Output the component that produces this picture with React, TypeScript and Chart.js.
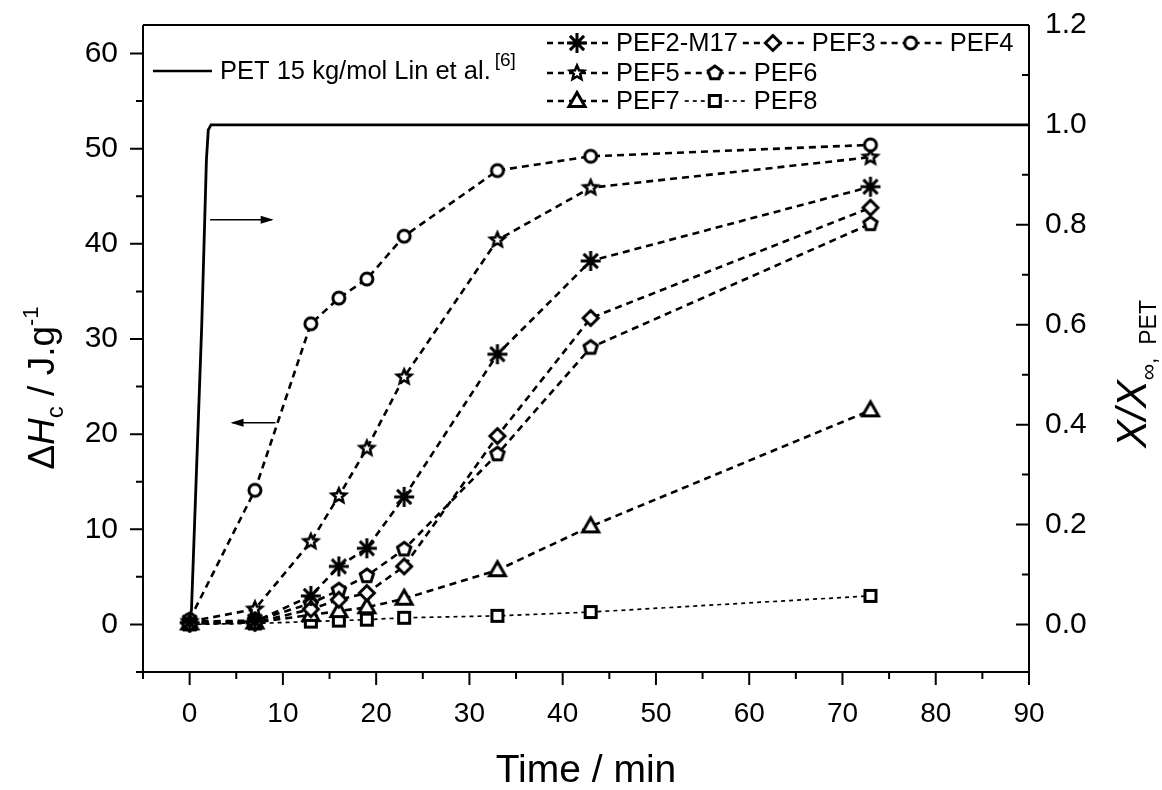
import React, { useEffect, useRef } from "react";
import { Chart, registerables } from "chart.js";

Chart.register(...registerables);

// ---------- data ----------
const times = [0, 7, 13, 16, 19, 23, 33, 43, 73];
const pef2m17 = [0.2, 0.3, 3.0, 6.1, 8.0, 13.4, 28.4, 38.2, 46.0];
const pef3 = [0.1, 0.2, 1.6, 2.6, 3.3, 6.1, 19.8, 32.2, 43.8];
const pef4 = [0.5, 14.1, 31.6, 34.3, 36.3, 40.8, 47.7, 49.2, 50.4];
const pef5 = [0.3, 1.6, 8.7, 13.5, 18.5, 26.0, 40.4, 45.9, 49.1];
const pef6 = [0.3, 0.4, 2.2, 3.6, 5.1, 7.9, 17.9, 29.1, 42.1];
const pef7 = [0.1, 0.2, 1.0, 1.4, 1.8, 2.7, 5.7, 10.3, 22.5];
const pef8 = [0.0, 0.1, 0.3, 0.4, 0.5, 0.7, 0.9, 1.3, 3.0];

const petTimes = [0, 0.2, 0.7, 1.3, 1.8, 2.0, 2.3, 90];
const petFraction = [0, 0.03, 0.29, 0.6, 0.93, 0.99, 1.0, 1.0];

const xTicks = [0, 10, 20, 30, 40, 50, 60, 70, 80, 90];
const xMinor = [5, 15, 25, 35, 45, 55, 65, 75, 85];
const yTicks = [0, 10, 20, 30, 40, 50, 60];
const yMinor = [5, 15, 25, 35, 45, 55];
const y2Ticks = [0, 0.2, 0.4, 0.6, 0.8, 1.0, 1.2];
const y2Minor = [0.1, 0.3, 0.5, 0.7, 0.9, 1.1];

const seriesNames = ["PEF2-M17", "PEF3", "PEF4", "PEF5", "PEF6", "PEF7", "PEF8"];
const seriesValues = [pef2m17, pef3, pef4, pef5, pef6, pef7, pef8];
const seriesMarkers = ["asterisk", "diamond", "circle", "star5", "pentagon", "triangle", "square"];
const petLabel = "PET 15 kg/mol Lin et al.";

const FONT = "'Liberation Sans', Arial, sans-serif";

function makeMarker(kind: string): HTMLCanvasElement {
  const size = 26;
  const c = document.createElement("canvas");
  c.width = size;
  c.height = size;
  const g = c.getContext("2d")!;
  const cx = size / 2;
  const cy = size / 2;
  g.strokeStyle = "#000";
  g.fillStyle = "#fff";
  g.lineWidth = 3;
  g.lineJoin = "miter";
  g.beginPath();
  if (kind === "asterisk") {
    g.lineWidth = 3;
    const r = 10;
    for (let i = 0; i < 4; i++) {
      const a = (i * Math.PI) / 4;
      g.moveTo(cx - r * Math.cos(a), cy - r * Math.sin(a));
      g.lineTo(cx + r * Math.cos(a), cy + r * Math.sin(a));
    }
    g.stroke();
    return c;
  }
  if (kind === "diamond") {
    const r = 7.5;
    g.moveTo(cx, cy - r);
    g.lineTo(cx + r, cy);
    g.lineTo(cx, cy + r);
    g.lineTo(cx - r, cy);
    g.closePath();
  } else if (kind === "circle") {
    g.arc(cx, cy, 6, 0, Math.PI * 2);
  } else if (kind === "star5") {
    g.lineWidth = 2.6;
    const ro = 7.5, ri = 3.4;
    for (let i = 0; i < 10; i++) {
      const r = i % 2 === 0 ? ro : ri;
      const a = -Math.PI / 2 + (i * Math.PI) / 5;
      const px = cx + r * Math.cos(a);
      const py = cy + r * Math.sin(a);
      if (i === 0) g.moveTo(px, py);
      else g.lineTo(px, py);
    }
    g.closePath();
  } else if (kind === "pentagon") {
    const r = 7;
    for (let i = 0; i < 5; i++) {
      const a = -Math.PI / 2 + (i * 2 * Math.PI) / 5;
      const px = cx + r * Math.cos(a);
      const py = cy + r * Math.sin(a);
      if (i === 0) g.moveTo(px, py);
      else g.lineTo(px, py);
    }
    g.closePath();
  } else if (kind === "triangle") {
    g.moveTo(cx, cy - 8.5);
    g.lineTo(cx + 8, cy + 5.5);
    g.lineTo(cx - 8, cy + 5.5);
    g.closePath();
  } else if (kind === "square") {
    g.rect(cx - 5.5, cy - 5.5, 11, 11);
  }
  g.fill();
  g.stroke();
  return c;
}

function drawRich(
  ctx: CanvasRenderingContext2D,
  parts: { t: string; size: number; italic?: boolean; dy?: number }[],
  cx: number,
  baseline: number
) {
  let total = 0;
  const widths: number[] = [];
  for (const p of parts) {
    ctx.font = `${p.italic ? "italic " : ""}${p.size}px ${FONT}`;
    const w = ctx.measureText(p.t).width;
    widths.push(w);
    total += w;
  }
  let x = cx - total / 2;
  ctx.textAlign = "left";
  ctx.textBaseline = "alphabetic";
  parts.forEach((p, i) => {
    ctx.font = `${p.italic ? "italic " : ""}${p.size}px ${FONT}`;
    ctx.fillText(p.t, x, baseline + (p.dy || 0));
    x += widths[i];
  });
}

const zeroPad = (s: any) => {
  s.paddingTop = 0;
  s.paddingBottom = 0;
  s.paddingLeft = 0;
  s.paddingRight = 0;
};

export default function App() {
  const ref = useRef<HTMLCanvasElement | null>(null);

  useEffect(() => {
    const canvas = ref.current;
    if (!canvas) return;
    const markers = seriesMarkers.map((m) => makeMarker(m));

    const datasets: any[] = seriesNames.map((name, i) => ({
      label: name,
      data: times.map((t, j) => ({ x: t, y: seriesValues[i][j] })),
      yAxisID: "y",
      borderColor: "#000",
      backgroundColor: "#fff",
      borderWidth: name === "PEF8" ? 1.7 : 2.6,
      borderDash: name === "PEF8" ? [4, 4] : [7, 5],
      pointStyle: markers[i],
      pointRadius: 7,
      tension: 0,
      fill: false,
    }));
    datasets.push({
      label: petLabel,
      data: petTimes.map((t, j) => ({ x: t, y: petFraction[j] })),
      yAxisID: "y2",
      borderColor: "#000",
      borderWidth: 2.8,
      pointRadius: 0,
      tension: 0,
      fill: false,
    });

    const framePlugin = {
      id: "frame",
      afterDraw(chart: any) {
        const ctx = chart.ctx as CanvasRenderingContext2D;
        const { left, right, top, bottom } = chart.chartArea;
        const sx = chart.scales.x;
        const sy = chart.scales.y;
        const sy2 = chart.scales.y2;
        ctx.save();
        ctx.strokeStyle = "#000";
        ctx.fillStyle = "#000";
        ctx.lineWidth = 2;
        ctx.setLineDash([]);
        // frame
        ctx.beginPath();
        ctx.moveTo(left - 7, bottom);
        ctx.lineTo(right, bottom);
        ctx.moveTo(left, top);
        ctx.lineTo(left, bottom + 7);
        ctx.moveTo(left, top);
        ctx.lineTo(right, top);
        ctx.moveTo(right, top);
        ctx.lineTo(right, bottom + 7);
        ctx.stroke();
        // ticks
        ctx.beginPath();
        xTicks.forEach((v) => {
          const px = sx.getPixelForValue(v);
          ctx.moveTo(px, bottom);
          ctx.lineTo(px, bottom + 13);
        });
        xMinor.forEach((v) => {
          const px = sx.getPixelForValue(v);
          ctx.moveTo(px, bottom);
          ctx.lineTo(px, bottom + 7);
        });
        yTicks.forEach((v) => {
          const py = sy.getPixelForValue(v);
          ctx.moveTo(left, py);
          ctx.lineTo(left - 13, py);
        });
        yMinor.forEach((v) => {
          const py = sy.getPixelForValue(v);
          ctx.moveTo(left, py);
          ctx.lineTo(left - 7, py);
        });
        y2Ticks.forEach((v) => {
          const py = sy2.getPixelForValue(v);
          ctx.moveTo(right, py);
          ctx.lineTo(right - 13, py);
        });
        y2Minor.forEach((v) => {
          const py = sy2.getPixelForValue(v);
          ctx.moveTo(right, py);
          ctx.lineTo(right - 7, py);
        });
        ctx.stroke();

        // arrows
        const arrow = (x1: number, x2: number, y: number) => {
          ctx.beginPath();
          ctx.lineWidth = 1.6;
          ctx.moveTo(x1, y);
          ctx.lineTo(x2, y);
          ctx.stroke();
          const dir = Math.sign(x2 - x1);
          ctx.beginPath();
          ctx.moveTo(x2 + dir * 2, y);
          ctx.lineTo(x2 - dir * 11, y - 4);
          ctx.lineTo(x2 - dir * 11, y + 4);
          ctx.closePath();
          ctx.fill();
        };
        const ar = sy2.getPixelForValue(0.81);
        arrow(sx.getPixelForValue(2.2), sx.getPixelForValue(8.8), ar);
        const al = sy.getPixelForValue(21.2);
        arrow(sx.getPixelForValue(9.2), sx.getPixelForValue(4.6), al);

        // axis titles
        ctx.fillStyle = "#000";
        drawRich(ctx, [{ t: "Time / min", size: 39 }], (left + right) / 2, 782);

        ctx.save();
        ctx.translate(54, 388);
        ctx.rotate(-Math.PI / 2);
        drawRich(
          ctx,
          [
            { t: "\u0394", size: 37 },
            { t: "H", size: 37, italic: true },
            { t: "c", size: 24, dy: 9 },
            { t: " / J.g", size: 37 },
            { t: "-1", size: 22, dy: -16 },
          ],
          0,
          0
        );
        ctx.restore();

        ctx.save();
        ctx.translate(1146, 374);
        ctx.rotate(-Math.PI / 2);
        drawRich(
          ctx,
          [
            { t: "X/X", size: 42, italic: true },
            { t: "\u221E,  PET", size: 23, dy: 10 },
          ],
          0,
          0
        );
        ctx.restore();

        // legend: PET
        ctx.lineWidth = 2.6;
        ctx.beginPath();
        ctx.moveTo(153, 71);
        ctx.lineTo(212, 71);
        ctx.stroke();
        ctx.font = `25.5px ${FONT}`;
        ctx.textAlign = "left";
        ctx.textBaseline = "middle";
        ctx.fillText(petLabel, 220, 72);
        const pw = ctx.measureText(petLabel).width;
        ctx.font = `19px ${FONT}`;
        ctx.fillText("[6]", 220 + pw + 4, 61);

        // legend: PEF series
        const rows = [
          [0, 1, 2],
          [3, 4],
          [5, 6],
        ];
        const rowY = [43, 73, 101];
        rows.forEach((row, ri) => {
          let x = 547;
          const y = rowY[ri];
          row.forEach((si) => {
            ctx.save();
            ctx.lineWidth = seriesNames[si] === "PEF8" ? 1.7 : 2.6;
            ctx.setLineDash(seriesNames[si] === "PEF8" ? [4, 4] : [6, 5]);
            ctx.beginPath();
            ctx.moveTo(x, y);
            ctx.lineTo(x + 61, y);
            ctx.stroke();
            ctx.restore();
            const m = markers[si];
            ctx.drawImage(m, x + 30 - m.width / 2, y - m.height / 2);
            ctx.font = `25.5px ${FONT}`;
            ctx.textBaseline = "middle";
            ctx.fillText(seriesNames[si], x + 69, y + 1);
            x += 69 + ctx.measureText(seriesNames[si]).width + 5;
          });
        });
        ctx.restore();
      },
    };

    const chart = new Chart(canvas, {
      type: "line",
      data: { datasets },
      options: {
        animation: false,
        responsive: false,
        maintainAspectRatio: false,
        layout: { padding: { top: 25, left: 0, right: 0, bottom: 0 } },
        plugins: {
          legend: { display: false },
          tooltip: { enabled: false },
        },
        scales: {
          x: {
            type: "linear",
            min: -5,
            max: 90,
            afterFit: (s: any) => {
              s.height = 118;
              zeroPad(s);
            },
            afterBuildTicks: (s: any) => {
              s.ticks = xTicks.map((v) => ({ value: v }));
            },
            grid: { display: false, drawTicks: false },
            border: { display: false },
            ticks: {
              color: "#000",
              font: { family: FONT, size: 28 },
              padding: 25,
              maxRotation: 0,
              autoSkip: false,
            },
          },
          y: {
            type: "linear",
            position: "left",
            min: -5,
            max: 63,
            afterFit: (s: any) => {
              s.width = 143;
              zeroPad(s);
            },
            afterBuildTicks: (s: any) => {
              s.ticks = yTicks.map((v) => ({ value: v }));
            },
            grid: { display: false, drawTicks: false },
            border: { display: false },
            ticks: {
              color: "#000",
              font: { family: FONT, size: 30 },
              padding: 25,
              autoSkip: false,
            },
          },
          y2: {
            type: "linear",
            position: "right",
            min: -0.0952,
            max: 1.2,
            afterFit: (s: any) => {
              s.width = 133;
              zeroPad(s);
            },
            afterBuildTicks: (s: any) => {
              s.ticks = y2Ticks.map((v) => ({ value: v }));
            },
            grid: { display: false, drawTicks: false },
            border: { display: false },
            ticks: {
              color: "#000",
              font: { family: FONT, size: 30 },
              padding: 16,
              autoSkip: false,
              callback: (v: any) => Number(v).toFixed(1),
            },
          },
        },
      },
      plugins: [framePlugin],
    });

    return () => chart.destroy();
  }, []);

  return (
    <div style={{ position: "fixed", left: 0, top: 0, width: 1162, height: 790, background: "#fff" }}>
      <canvas ref={ref} width={1162} height={790} style={{ display: "block" }} />
    </div>
  );
}
